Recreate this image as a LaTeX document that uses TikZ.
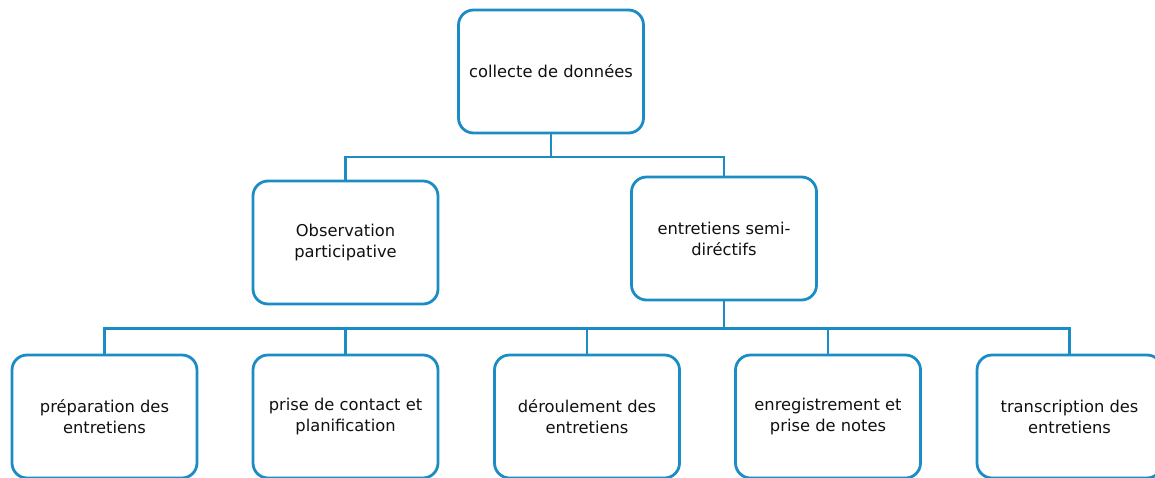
\documentclass[tikz,border=0pt]{standalone}
\usepackage{fontspec}
\setmainfont{DejaVu Sans}
\usepackage{tikz}
\usetikzlibrary{positioning}
\definecolor{boxblue}{HTML}{1B8CC4}
\definecolor{boxtext}{HTML}{111111}
\tikzset{
	stepnode/.style = {draw=boxblue, line width=2.8pt, rounded corners=15pt, fill=white,
		minimum width=185pt, minimum height=123pt, align=center, text=boxtext,
		font=\fontsize{16.3pt}{21pt}\selectfont, inner sep=0pt},
	link/.style     = {draw=boxblue, line width=2.6pt},
}

\begin{document}
\begin{tikzpicture}[x=1pt, y=-1pt]
		\useasboundingbox (0,0) rectangle (1155,477);
		% top level
		\node[stepnode] (collecte) at (551,71.5) {collecte de données};
		% second level
		\node[stepnode] (obs) at (345.5,242.5) {Observation\\participative};
		\node[stepnode] (entr) at (724,238.5) {entretiens semi-\\diréctifs};
		% third level: steps of the interviews
		\node[stepnode] (prep) at (104.5,416.5) {préparation des\\entretiens};
		\node[stepnode] (contact) at (345.5,416.5) {prise de contact et\\planification};
		\node[stepnode] (deroul) at (587,416.5) {déroulement des\\entretiens};
		\node[stepnode] (enreg) at (828,416.5) {enregistrement et\\prise de notes};
		\node[stepnode] (transc) at (1069.5,416.5) {transcription des\\entretiens};
		% connectors
		\draw[link] (collecte.south) -- ++(0,22.5) coordinate (split) -| (obs.north);
		\draw[link] (split) -| (entr.north);
		\foreach \n in {prep,contact,deroul,enreg,transc}
			\draw[link] (entr.south) -- ++(0,27) -| (\n.north);
	\end{tikzpicture}
\end{document}
